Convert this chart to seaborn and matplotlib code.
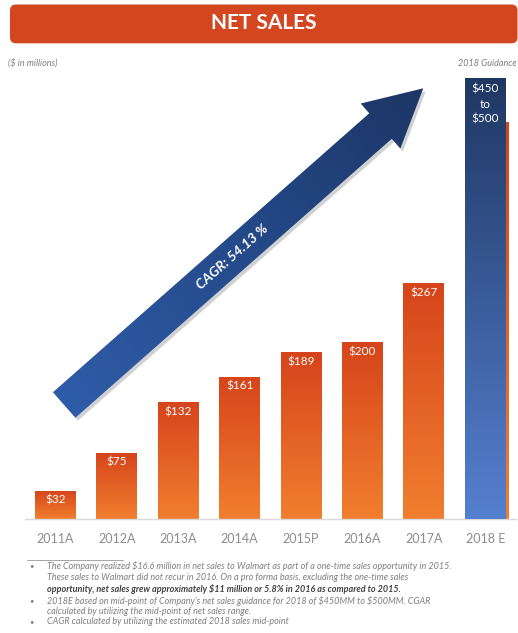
import numpy as np
import pandas as pd
import matplotlib
matplotlib.use("Agg")
import matplotlib.pyplot as plt
import seaborn as sns
from matplotlib.colors import LinearSegmentedColormap
from matplotlib.patches import Polygon, FancyBboxPatch

# ---------------- data ----------------
years = ["2011A", "2012A", "2013A", "2014A", "2015P", "2016A", "2017A", "2018 E"]
actual_sales = [32, 75, 132, 161, 189, 200, 267]
guidance_low = 450
guidance_high = 500
value_labels = ["$32", "$75", "$132", "$161", "$189", "$200", "$267"]
guidance_label = "$450\nto\n$500"
title = "NET SALES"
cagr_text = "CAGR: 54.13 %"
footnotes = [
    ("The Company realized $16.6 million in net sales to Walmart as part of a one-time sales opportunity in 2015.", False, True),
    ("These sales to Walmart did not recur in 2016. On a pro forma basis, excluding the one-time sales", False, False),
    ("opportunity, net sales grew approximately $11 million or 5.8% in 2016 as compared to 2015.", True, False),
    ("2018E based on mid-point of Company's net sales guidance for 2018 of $450MM to $500MM. CGAR", False, True),
    ("calculated by utilizing the mid-point of net sales range.", False, False),
    ("CAGR calculated by utilizing the estimated 2018 sales mid-point", False, True),
]

# ---------------- style ----------------
sns.set_style("white")
plt.rcParams["font.family"] = ["Lato", "DejaVu Sans"]
plt.rcParams["text.parse_math"] = False

W, H = 518, 633
fig = plt.figure(figsize=(W / 100, H / 100), dpi=100)

ORANGE_TOP = "#D6441B"
ORANGE_BOT = "#F17F2F"
BLUE_TOP = "#1F3763"
BLUE_BOT = "#5580D0"
GRAY = "#7F7F7F"

# main axes: baseline at y=519px, top at y=60px
ax_left, ax_right = 24.8, 515.9
base_px, top_px = 519, 60
ax = fig.add_axes([ax_left / W, (H - base_px) / H, (ax_right - ax_left) / W, (base_px - top_px) / H])
px_per_unit = 0.883
ymax = (base_px - top_px) / px_per_unit

orange_vals = actual_sales + [guidance_low]
blue_vals = [np.nan] * len(actual_sales) + [guidance_high]
df_o = pd.DataFrame({"year": years, "value": orange_vals})
df_b = pd.DataFrame({"year": years, "value": blue_vals})

bw = 0.667
sns.barplot(data=df_o, x="year", y="value", order=years, color=ORANGE_BOT,
            width=bw, ax=ax, saturation=1, zorder=2)
n_o = len(ax.patches)
sns.barplot(data=df_b, x="year", y="value", order=years, color=BLUE_BOT,
            width=bw, ax=ax, saturation=1, zorder=3)
orange_patches = ax.patches[:n_o]
blue_patches = [p for p in ax.patches[n_o:] if np.isfinite(p.get_height()) and p.get_height() > 0]

# shift the orange guidance bar slightly right (it peeks from behind the blue bar)
orange_patches[-1].set_x(orange_patches[-1].get_x() + 0.06)


def gradient_fill(axis, patch, c_top, c_bot, z):
    x0, y0 = patch.get_x(), patch.get_y()
    w, h = patch.get_width(), patch.get_height()
    cmap = LinearSegmentedColormap.from_list("g", [c_bot, c_top])
    grad = np.linspace(0, 1, 256).reshape(-1, 1)
    im = axis.imshow(grad, extent=[x0, x0 + w, y0, y0 + h], origin="lower",
                     aspect="auto", cmap=cmap, zorder=z, interpolation="bilinear")
    im.set_clip_path(patch)
    patch.set_facecolor("none")
    patch.set_edgecolor("none")


for p in orange_patches:
    gradient_fill(ax, p, ORANGE_TOP, ORANGE_BOT, 2)
for p in blue_patches:
    gradient_fill(ax, p, BLUE_TOP, BLUE_BOT, 3)

ax.set_xlim(-0.5, len(years) - 0.5)
ax.set_ylim(0, ymax)

# value labels
lab_off = 9.5 / px_per_unit
for i, (v, t) in enumerate(zip(actual_sales, value_labels)):
    ax.text(i, v - lab_off, t, ha="center", va="center", color="white", fontsize=8.5, zorder=5)
ax.text(len(years) - 1, guidance_high - 6 / px_per_unit, guidance_label, ha="center", va="top",
        color="white", fontsize=8.5, linespacing=1.45, zorder=5)

# axes styling
for s in ["top", "right", "left"]:
    ax.spines[s].set_visible(False)
ax.spines["bottom"].set_color("#D9D9D9")
ax.spines["bottom"].set_linewidth(1)
ax.set_yticks([])
ax.set_xlabel("")
ax.set_ylabel("")
ax.set_xticks(range(len(years)))
ax.set_xticklabels(years, color="#8C8C8C", fontsize=9)
ax.tick_params(axis="x", which="major", length=0, pad=10)
ax.set_xticks(np.arange(-0.5, len(years)), minor=True)
ax.tick_params(axis="x", which="minor", length=5, width=1, color="#D9D9D9")
ax.patch.set_alpha(0)

# ---------------- decoration layer (pixel coords) ----------------
deco = fig.add_axes([0, 0, 1, 1], zorder=10)
deco.set_xlim(0, W)
deco.set_ylim(H, 0)
deco.axis("off")
deco.patch.set_alpha(0)

# title banner
banner = FancyBboxPatch((10, 4.5), 507.5, 38.8, boxstyle="round,pad=0,rounding_size=6",
                        facecolor="#D4461F", edgecolor="none")
deco.add_patch(banner)
deco.text(264, 23, title, ha="center", va="center", color="white", fontsize=15, fontweight="bold")

deco.text(8, 63, "($ in millions)", ha="left", va="center", color=GRAY, fontsize=6.5, style="italic")
deco.text(517, 63, "2018 Guidance", ha="right", va="center", color=GRAY, fontsize=6.5, style="italic")

# arrow
tail = np.array([64.2, 405.0])
tip = np.array([423.3, 88.3])
sw, hw, hl = 34.0, 60.0, 57.0
L = np.linalg.norm(tip - tail)
u = (tip - tail) / L
n = np.array([-u[1], u[0]])
neck = tip - u * hl
pts = np.array([
    tail + n * sw / 2,
    neck + n * sw / 2,
    neck + n * hw / 2,
    tip,
    neck - n * hw / 2,
    neck - n * sw / 2,
    tail - n * sw / 2,
])
shadow = Polygon(pts + np.array([2.5, 3.0]), closed=True, facecolor="#000000", alpha=0.18,
                 edgecolor="none", zorder=1)
deco.add_patch(shadow)
arrow = Polygon(pts, closed=True, facecolor="none", edgecolor="none", zorder=2)
deco.add_patch(arrow)
xx, yy = np.meshgrid(np.arange(W) + 0.5, np.arange(H) + 0.5)
tt = np.clip(((xx - tail[0]) * u[0] + (yy - tail[1]) * u[1]) / L, 0, 1)
acmap = LinearSegmentedColormap.from_list("a", ["#2F5CA8", "#244A8A", "#1D3665"])
im = deco.imshow(tt, extent=(0, W, H, 0), cmap=acmap, aspect="auto", zorder=2,
                 interpolation="bilinear")
im.set_clip_path(arrow)
deco.set_xlim(0, W)
deco.set_ylim(H, 0)

ang = np.degrees(np.arctan2(-(tip[1] - tail[1]), tip[0] - tail[0]))
deco.text(232, 257, cagr_text, ha="center", va="center", rotation=ang, rotation_mode="anchor",
          color="white", fontsize=10, fontweight="bold", style="italic", zorder=3)

# footnotes
deco.plot([27, 123], [560, 560], color="#A6A6A6", lw=0.7)
line_y = [566, 577.7, 589.3, 601, 611.7, 621.7]
for (txt, bold, bullet), y in zip(footnotes, line_y):
    if bullet:
        deco.text(29, y, "\u2022", ha="left", va="center", color=GRAY, fontsize=5.5)
    deco.text(47, y, txt, ha="left", va="center", fontsize=6.5, style="italic",
              color="#404040" if bold else GRAY, fontweight="bold" if bold else "normal")

fig.savefig("out.png", dpi=100)
